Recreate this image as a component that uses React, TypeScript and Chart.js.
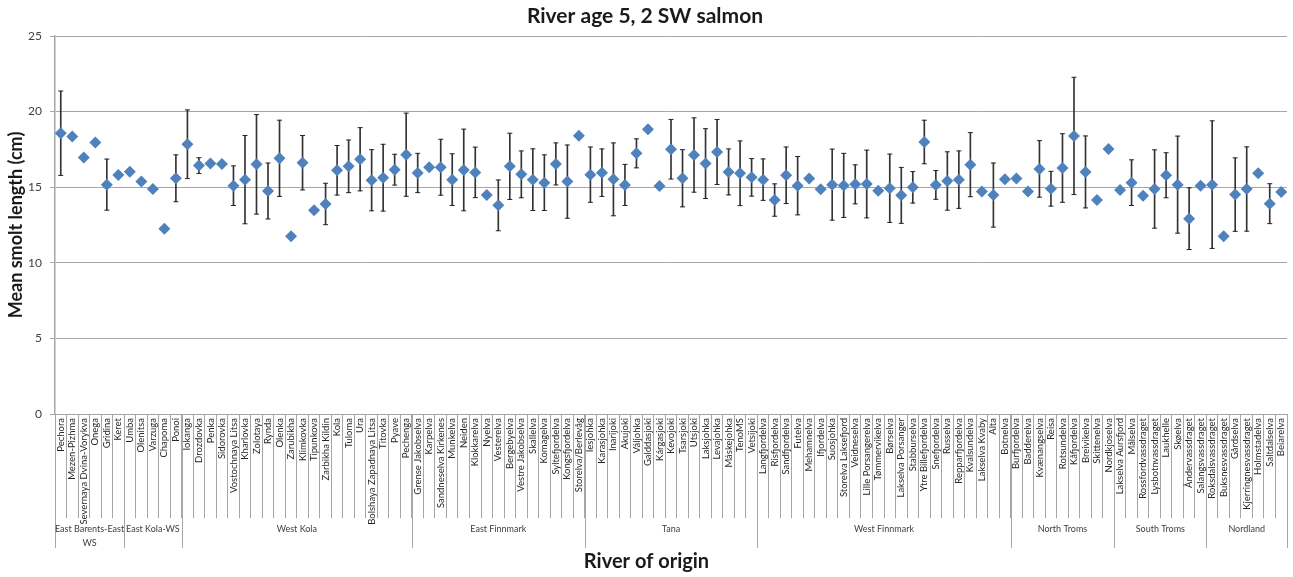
import React, { useEffect, useRef } from "react";
import { Chart, registerables } from "chart.js";

Chart.register(...registerables);

const riverLabels = [
  "Pechora", "Mezen-Pizhma", "Severnaya Dvina-Vorykva", "Onega", "Gridina", "Keret",
  "Umba", "Olenitsa", "Varzuga", "Chapoma", "Ponoi",
  "Iokanga", "Drozdovka", "Penka", "Sidorovka", "Vostochnaya Litsa", "Kharlovka", "Zolotaya", "Rynda", "Olenka", "Zarubikha",
  "Klimkovka", "Tipunkova", "Zarbikha Kildin", "Kola", "Tuloma", "Ura", "Bolshaya Zapadnaya Litsa", "Titovka", "Pyave", "Pechenga",
  "Grense Jakobselva", "Karpelva", "Sandneselva Kirkenes", "Munkelva", "Neiden", "Klokkarelva", "Nyelva", "Vesterelva", "Bergebyelva",
  "Vestre Jakobselva", "Skallelva", "Komagelva", "Syltefjordelva", "Kongsfjordelva", "Storelva/Berlevåg",
  "Iesjohka", "Karasjohka", "Inarijoki", "Akujoki", "Váljohka", "Galddasjoki", "Kárgasjoki", "Kevojoki", "Tsarsjoki", "Utsjoki",
  "Laksjohka", "Levajohka", "Máskejohka", "TenoMS", "Vetsijoki",
  "Langfjordelva", "Risfjordelva", "Sandfjordelva", "Futelva", "Mehamnelva", "Ifjordelva", "Suosjohka", "Storelva Laksefjord",
  "Veidneselva", "Lille Porsangerelva", "Tømmervikelva", "Børselva", "Lakselva Porsanger", "Stabburselva", "Ytre Billefjordelva",
  "Snefjordelva", "Russelva", "Repparfjordelva", "Kvalsundelva", "Lakselva Kvaby", "Alta", "Botnelva",
  "Burfjordelva", "Badderelva", "Kvænangselva", "Reisa", "Rotsundelva", "Kåfjordelva", "Breivikelva", "Skittenelva", "Nordkjoselva",
  "Lakselva Aursfjord", "Målselva", "Rossfordvassdraget", "Lysbotnvassdraget", "Laukhelle", "Skøelva", "Åndervassdraget", "Salangsvassdraget",
  "Roksdalsvassdraget", "Buksnesvassdraget", "Gårdselva", "Kjerringnesvassdraget", "Holmstadelva", "Saltdalselva", "Beiarelva",
];

const groupNames: string[][] = [
  ["East Barents-East", "WS"], ["East Kola-WS"], ["West Kola"], ["East Finnmark"], ["Tana"],
  ["West Finnmark"], ["North Troms"], ["South Troms"], ["Nordland"],
];
const groupSizes = [6, 5, 20, 15, 15, 22, 9, 8, 7];

const meanLength = [
  18.57, 18.35, 16.96, 17.95, 15.17, 15.81,
  16.03, 15.37, 14.88, 12.26, 15.59,
  17.84, 16.43, 16.56, 16.54, 15.10, 15.50, 16.51, 14.75, 16.91, 11.75,
  16.62, 13.47, 13.89, 16.12, 16.38, 16.85, 15.46, 15.63, 16.16, 17.15,
  15.94, 16.32, 16.32, 15.50, 16.14, 15.98, 14.48, 13.80, 16.38,
  15.85, 15.50, 15.30, 16.54, 15.37, 18.41,
  15.83, 15.96, 15.52, 15.15, 17.24, 18.83, 15.08, 17.51, 15.59, 17.13,
  16.56, 17.33, 16.01, 15.92, 15.65,
  15.50, 14.15, 15.79, 15.10, 15.57, 14.86, 15.17, 15.12,
  15.19, 15.21, 14.77, 14.93, 14.46, 14.99, 17.99,
  15.15, 15.41, 15.50, 16.49, 14.71, 14.48, 15.52,
  15.57, 14.71, 16.21, 14.90, 16.27, 18.39, 16.01, 14.15, 17.53,
  14.82, 15.30, 14.44, 14.88, 15.79, 15.17, 12.92, 15.10,
  15.17, 11.75, 14.51, 14.88, 15.92, 13.91, 14.68,
];

const errorHalf: (number | null)[] = [
  2.79, null, null, null, 1.69, null,
  null, null, null, null, 1.55,
  2.27, 0.52, null, null, 1.31, 2.92, 3.29, 1.85, 2.52, null,
  1.80, null, 1.37, 1.64, 1.74, 2.09, 2.02, 2.21, 1.02, 2.75,
  1.30, null, 1.85, 1.71, 2.70, 1.67, null, 1.68, 2.19,
  1.55, 2.04, 1.84, 1.39, 2.42, null,
  1.83, 1.57, 2.41, 1.36, 0.96, null, null, 1.97, 1.89, 2.46,
  2.31, 2.15, 1.52, 2.14, 1.24,
  1.37, 1.07, 1.87, 1.93, null, null, 2.35, 2.12,
  1.29, 2.24, null, 2.26, 1.85, 1.04, 1.44,
  0.95, 1.93, 1.90, 2.12, null, 2.12, null,
  null, null, 1.87, 1.15, 2.27, 3.88, 2.38, null, null,
  null, 1.51, null, 2.59, 1.49, 3.21, 2.04, null,
  4.22, null, 2.43, 2.79, null, 1.32, null,
];

const yMin = 0;
const yMax = 25;
const yStep = 5;

const FONT = "Lato, 'Liberation Sans', sans-serif";

const groupPlugin = {
  id: "groupRow",
  afterDraw(chart: any) {
    const { ctx, chartArea } = chart;
    const xs = chart.scales.x;
    ctx.save();
    ctx.strokeStyle = "#a6a6a6";
    ctx.lineWidth = 1;
    const lineBottom = 548;
    let start = 0;
    groupSizes.forEach((n, g) => {
      const left = xs.getPixelForValue(start - 0.5);
      const right = xs.getPixelForValue(start + n - 0.5);
      [left, right].forEach((px) => {
        const xp = Math.round(px) + 0.5;
        ctx.beginPath();
        ctx.moveTo(xp, chartArea.bottom);
        ctx.lineTo(xp, lineBottom);
        ctx.stroke();
      });
      ctx.fillStyle = "#404040";
      ctx.font = `9px ${FONT}`;
      ctx.textAlign = "center";
      ctx.textBaseline = "middle";
      const lines = groupNames[g];
      lines.forEach((t, k) => {
        ctx.fillText(t, (left + right) / 2, 529 + k * 14);
      });
      start += n;
    });
    ctx.fillStyle = "#1a1a1a";
    ctx.font = `bold 20px ${FONT}`;
    ctx.textAlign = "center";
    ctx.textBaseline = "middle";
    ctx.fillText("River of origin", chart.width / 2, 562);
    ctx.restore();
  },
};

export default function App() {
  const canvasRef = useRef<HTMLCanvasElement | null>(null);

  useEffect(() => {
    if (!canvasRef.current) return;
    const whiskers = meanLength.map((m, i) => {
      const e = errorHalf[i];
      return e == null ? null : [m - e, m + e];
    });
    const capLow = meanLength.map((m, i) => {
      const e = errorHalf[i];
      return e == null ? null : m - e;
    });
    const capHigh = meanLength.map((m, i) => {
      const e = errorHalf[i];
      return e == null ? null : m + e;
    });

    const chart = new Chart(canvasRef.current, {
      type: "bar",
      data: {
        labels: riverLabels,
        datasets: [
          {
            type: "line",
            label: "Mean",
            data: meanLength,
            showLine: false,
            pointStyle: "rectRot",
            pointRadius: 6,
            pointBackgroundColor: "#4F81BD",
            pointBorderColor: "#4F81BD",
            pointBorderWidth: 0,
            order: 0,
          } as any,
          {
            type: "line",
            label: "capLow",
            data: capLow,
            showLine: false,
            pointStyle: "line",
            pointRadius: 2.5,
            pointBorderColor: "#262626",
            pointBorderWidth: 1,
            order: 1,
          } as any,
          {
            type: "line",
            label: "capHigh",
            data: capHigh,
            showLine: false,
            pointStyle: "line",
            pointRadius: 2.5,
            pointBorderColor: "#262626",
            pointBorderWidth: 1,
            order: 1,
          } as any,
          {
            type: "bar",
            label: "SD",
            data: whiskers as any,
            backgroundColor: "#333333",
            barThickness: 1,
            order: 2,
          } as any,
        ],
      },
      options: {
        responsive: false,
        animation: false,
        layout: { padding: { left: 0, right: 3, top: 0, bottom: 0 } },
        plugins: {
          legend: { display: false },
          tooltip: { enabled: false },
          title: {
            display: true,
            text: "River age 5, 2 SW salmon",
            color: "#1a1a1a",
            font: { family: FONT, size: 21, weight: "bold" },
            padding: { top: 4, bottom: 6.8 },
          },
        },
        scales: {
          x: {
            type: "category",
            offset: true,
            afterFit(scale: any) {
              scale.height = 163;
            },
            grid: {
              offset: true,
              drawOnChartArea: false,
              drawTicks: true,
              tickLength: 104,
              color: "#a6a6a6",
            },
            border: { display: true, color: "#a6a6a6", width: 1 },
            ticks: {
              autoSkip: false,
              minRotation: 90,
              maxRotation: 90,
              padding: -100,
              color: "#262626",
              font: { family: FONT, size: 9.5 },
            },
          },
          y: {
            min: yMin,
            max: yMax,
            afterFit(scale: any) {
              scale.width = 55;
            },
            ticks: {
              stepSize: yStep,
              padding: 8,
              color: "#404040",
              font: { family: FONT, size: 12 },
            },
            grid: {
              color: "#a6a6a6",
              lineWidth: 1,
              drawTicks: true,
              tickLength: 5,
            },
            border: { display: true, color: "#a6a6a6", width: 1.5 },
            title: {
              display: true,
              text: "Mean smolt length (cm)",
              color: "#1a1a1a",
              font: { family: FONT, size: 18, weight: "bold" },
              padding: { top: 5, bottom: 0 },
            },
          },
        },
      } as any,
      plugins: [groupPlugin],
    });
    return () => chart.destroy();
  }, []);

  return (
    <div style={{ position: "absolute", left: 0, top: 0, width: 1293, height: 577, background: "#fff" }}>
      <canvas ref={canvasRef} width={1293} height={577} />
    </div>
  );
}
